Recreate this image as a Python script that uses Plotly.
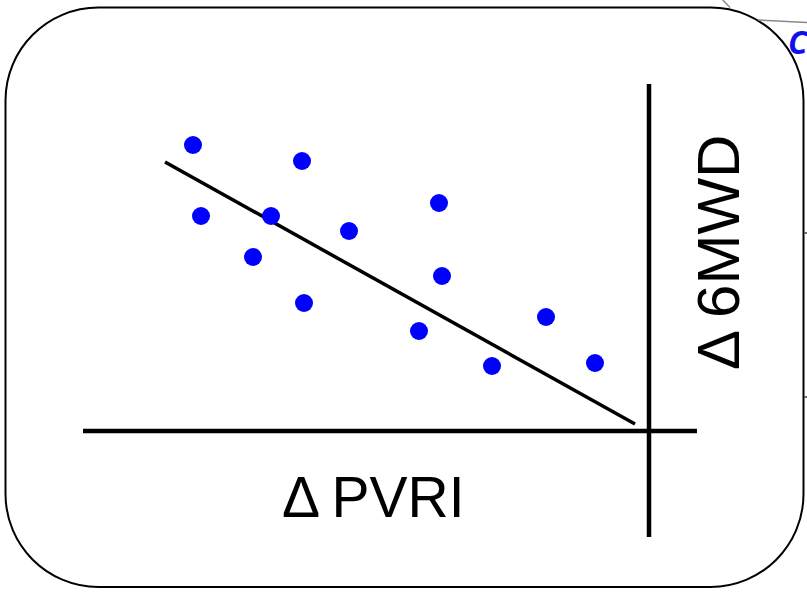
import plotly.graph_objects as go

W, H = 807, 592

# ---- data (arbitrary units, origin at the axis crossing) ----
pvri_delta = [-45.6, -34.7, -44.8, -37.8, -30.0, -21.0, -39.6, -20.7, -34.5, -23.0, -10.3, -15.7, -5.4]
mwd_delta = [28.6, 27.0, 21.5, 21.5, 20.0, 22.8, 17.4, 15.5, 12.8, 10.0, 11.4, 6.5, 6.8]
fit_x = [-48.4, -1.4]
fit_y = [26.9, 0.7]
axis_x_span = [-56.6, 4.8]
axis_y_span = [-10.6, 34.7]
x_label = "Δ\u2009PVRI"
y_label = "Δ\u20096MWD"

X_RANGE = [(0 - 649) / 10, (W - 649) / 10]
Y_RANGE = [(431 - H) / 10, 431 / 10]


def px(x, y):
    return x / W, 1 - y / H


fig = go.Figure()

fig.add_trace(go.Scatter(x=fit_x, y=fit_y, mode="lines",
                         line=dict(color="black", width=3.5), hoverinfo="skip"))
fig.add_trace(go.Scatter(x=axis_x_span, y=[0, 0], mode="lines",
                         line=dict(color="black", width=4.5), hoverinfo="skip"))
fig.add_trace(go.Scatter(x=[0, 0], y=axis_y_span, mode="lines",
                         line=dict(color="black", width=4.5), hoverinfo="skip"))
fig.add_trace(go.Scatter(x=pvri_delta, y=mwd_delta, mode="markers",
                         marker=dict(color="#0000ff", size=18, line=dict(width=0))))

# rounded box
L, T, R, B, r = 5.5, 7.5, 803.5, 587, 93
k = 0.5523 * r


def P(x, y):
    a, b = px(x, y)
    return f"{a:.5f},{b:.5f}"


path = (f"M {P(L + r, T)} L {P(R - r, T)} "
        f"C {P(R - r + k, T)} {P(R, T + r - k)} {P(R, T + r)} "
        f"L {P(R, B - r)} "
        f"C {P(R, B - r + k)} {P(R - r + k, B)} {P(R - r, B)} "
        f"L {P(L + r, B)} "
        f"C {P(L + r - k, B)} {P(L, B - r + k)} {P(L, B - r)} "
        f"L {P(L, T + r)} "
        f"C {P(L, T + r - k)} {P(L + r - k, T)} {P(L + r, T)} Z")

shapes = [
    dict(type="path", xref="paper", yref="paper", path=path,
         line=dict(color="black", width=2), layer="below"),
]


def seg(x0, y0, x1, y1, color, w):
    a0, b0 = px(x0, y0)
    a1, b1 = px(x1, y1)
    return dict(type="line", xref="paper", yref="paper", x0=a0, y0=b0, x1=a1, y1=b1,
                line=dict(color=color, width=w))


shapes += [
    seg(722.7, 0, 730, 7.5, "#8a8a8a", 1.5),
    seg(758, 20, 807, 22.5, "#8a8a8a", 1.5),
    seg(804, 233, 807, 233, "#666666", 2),
    seg(804, 397, 807, 397, "#666666", 2),
]

ann = []
ax, ay = px(373, 497)
ann.append(dict(x=ax, y=ay, xref="paper", yref="paper", text=x_label, showarrow=False,
                font=dict(family="Liberation Sans, Arial", size=57, color="black"),
                xanchor="center", yanchor="middle"))
ax, ay = px(718, 253)
ann.append(dict(x=ax, y=ay, xref="paper", yref="paper", text=y_label, showarrow=False,
                textangle=-90,
                font=dict(family="Liberation Sans, Arial", size=60, color="black"),
                xanchor="center", yanchor="middle"))
ax, ay = px(786, 41)
ann.append(dict(x=ax, y=ay, xref="paper", yref="paper", text="<b><i>C</i></b>", showarrow=False,
                font=dict(family="Open Sans, DejaVu Sans", size=32, color="#1010ee"),
                xanchor="left", yanchor="middle"))

fig.update_layout(
    width=W, height=H,
    margin=dict(l=0, r=0, t=0, b=0),
    paper_bgcolor="white", plot_bgcolor="white",
    showlegend=False,
    xaxis=dict(range=X_RANGE, visible=False, fixedrange=True),
    yaxis=dict(range=Y_RANGE, visible=False, fixedrange=True),
    shapes=shapes,
    annotations=ann,
)

fig.write_html("out.html", config={"displayModeBar": False},
               post_script="document.body.style.margin='0';document.body.style.overflow='hidden';")
